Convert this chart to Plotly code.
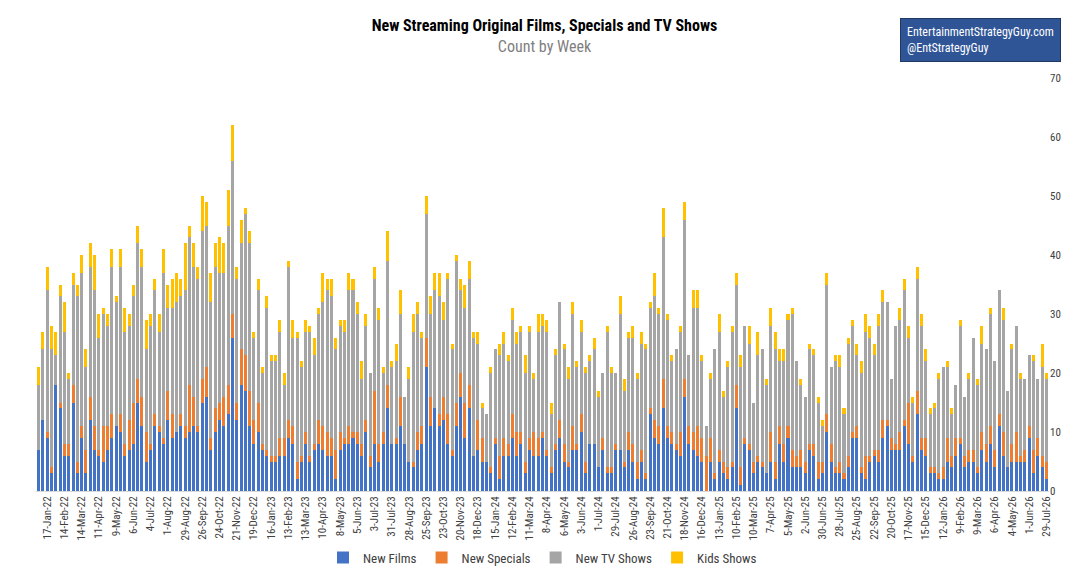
import plotly.graph_objects as go

films = [7,12,9,3,18,14,6,6,15,3,9,3,12,7,6,5,7,9,11,10,
 6,7,8,15,11,5,7,11,10,8,12,9,10,11,9,10,11,10,15,16,
 7,10,12,11,13,26,12,18,17,11,8,10,7,6,5,5,6,6,9,8,
 2,5,8,5,7,8,7,6,6,2,7,8,8,9,8,6,10,4,8,5,
 8,14,8,8,11,8,5,4,7,8,21,11,14,11,12,8,6,11,16,9,
 14,6,7,5,5,3,8,2,6,6,9,6,8,3,7,6,6,9,6,3,
 7,9,5,4,7,7,10,3,8,8,4,7,3,3,7,7,4,7,5,2,
 5,2,13,9,8,14,9,8,7,6,16,8,7,6,5,0,5,2,5,3,
 2,4,14,1,8,7,3,5,4,3,5,2,8,5,9,4,4,4,3,7,
 6,2,3,10,5,3,3,2,4,9,9,3,2,5,6,5,9,11,7,7,
 7,11,8,5,13,7,6,3,3,2,2,5,4,6,8,4,5,5,3,7,
 5,8,4,11,6,4,5,5,5,5,9,3,6,4,2]
specials = [0,0,1,1,0,1,2,2,3,2,2,4,4,4,1,6,4,4,0,3,
 2,5,7,4,5,5,1,2,1,1,5,4,0,2,2,8,5,1,4,5,
 2,4,3,5,5,4,3,6,6,6,4,5,1,1,1,1,3,3,3,3,
 3,1,2,1,1,4,4,4,3,5,3,1,3,1,2,2,2,2,9,3,
 2,4,0,1,5,0,0,1,3,3,5,5,0,2,4,5,1,4,4,6,
 4,0,5,4,0,1,1,4,3,2,4,4,2,2,2,4,3,1,1,1,
 1,3,3,1,4,1,3,2,0,0,0,2,1,1,1,0,1,3,3,3,
 2,1,1,3,3,5,2,2,1,4,3,3,3,5,4,6,4,1,2,2,
 2,1,4,3,1,1,2,1,1,0,5,3,3,3,2,3,2,3,2,1,
 2,3,2,3,3,1,2,1,2,1,2,1,4,1,1,2,3,1,2,1,
 3,1,7,1,4,2,3,1,1,1,2,4,2,3,1,2,2,2,1,3,
 3,3,3,2,4,0,3,5,1,2,2,4,3,2,3]
tv = [11,12,24,20,5,18,19,11,17,28,26,14,22,23,19,19,17,25,21,25,
 19,16,18,23,22,14,20,21,16,28,14,18,22,20,23,25,22,25,25,24,
 23,24,22,21,27,26,21,18,24,25,14,19,12,24,16,16,18,9,26,15,
 21,15,17,21,15,18,21,24,24,17,18,18,23,24,20,11,16,14,19,21,
 10,21,13,13,14,8,14,22,20,15,21,14,20,20,13,23,17,24,14,16,
 18,20,13,5,8,16,15,17,16,14,16,15,17,15,18,9,18,18,20,9,
 15,20,16,14,19,13,14,15,14,16,12,11,23,16,12,23,12,16,18,14,
 18,21,17,21,19,24,18,12,16,17,27,12,21,20,13,5,10,21,20,11,
 17,22,17,17,19,17,10,17,19,15,18,19,11,14,18,23,16,11,11,16,
 15,10,6,22,13,18,16,10,19,18,12,16,21,20,16,21,20,20,10,20,
 19,22,11,9,19,19,13,9,10,16,17,12,7,9,19,10,12,19,14,15,
 16,19,15,21,19,13,16,18,13,12,12,15,10,15,14]
kids = [3,3,4,4,4,2,5,1,2,2,3,3,4,6,4,1,2,3,1,3,
 4,2,2,3,3,5,2,2,3,4,4,5,5,3,8,2,4,2,6,4,
 5,4,6,5,6,6,2,4,1,2,1,2,1,2,1,1,2,2,1,3,
 1,1,2,1,3,1,5,2,3,2,1,2,3,2,2,3,2,0,2,2,
 1,5,1,3,4,0,2,3,2,1,3,3,3,4,3,1,1,1,2,4,
 3,1,2,1,0,1,0,2,2,1,2,2,1,3,1,1,3,2,2,2,
 1,0,1,2,2,1,2,1,1,2,1,0,1,1,0,3,2,1,2,1,
 2,1,1,4,1,5,1,1,0,1,3,0,3,3,1,0,1,0,3,1,
 1,1,2,2,0,3,0,4,0,1,3,3,2,2,1,1,0,1,0,1,
 1,1,1,2,0,1,2,1,1,1,2,2,3,2,2,2,2,0,0,0,
 2,2,2,1,2,2,2,1,1,1,0,1,1,0,1,0,1,0,1,3,
 0,1,0,0,2,0,1,0,1,0,0,1,0,4,1]

tick_labels = ["17-Jan-22","14-Feb-22","14-Mar-22","11-Apr-22","9-May-22","6-Jun-22","4-Jul-22","1-Aug-22","29-Aug-22","26-Sep-22","24-Oct-22","21-Nov-22","19-Dec-22",
 "16-Jan-23","13-Feb-23","13-Mar-23","10-Apr-23","8-May-23","5-Jun-23","3-Jul-23","31-Jul-23","28-Aug-23","25-Sep-23","23-Oct-23","20-Nov-23","18-Dec-23",
 "15-Jan-24","12-Feb-24","11-Mar-24","8-Apr-24","6-May-24","3-Jun-24","1-Jul-24","29-Jul-24","26-Aug-24","23-Sep-24","21-Oct-24","18-Nov-24","16-Dec-24",
 "13-Jan-25","10-Feb-25","10-Mar-25","7-Apr-25","5-May-25","2-Jun-25","30-Jun-25","28-Jul-25","25-Aug-25","22-Sep-25","20-Oct-25","17-Nov-25","15-Dec-25",
 "12-Jan-26","9-Feb-26","9-Mar-26","6-Apr-26","4-May-26","1-Jun-26","29-Jul-26"]

n = len(films)
x = list(range(n))
tickvals = [2 + 4 * i for i in range(len(tick_labels))]

FONT = "Liberation Sans Narrow, Arial Narrow, Roboto Condensed, Liberation Sans, sans-serif"
fig = go.Figure()
for name, vals, col in [("New Films", films, "#4472C4"), ("New Specials", specials, "#ED7D31"),
                        ("New TV Shows", tv, "#A5A5A5"), ("Kids Shows", kids, "#FFC000")]:
    fig.add_bar(x=x, y=vals, name=name, marker_color=col, marker_line_width=0)

fig.update_layout(
    barmode="stack", bargap=0.3, width=1073, height=587,
    paper_bgcolor="white", plot_bgcolor="white",
    font=dict(family=FONT, size=12, color="#333"),
    margin=dict(l=28, r=32, t=70, b=104),
    title=dict(text="<b>New Streaming Original Films, Specials and TV Shows</b><br><span style='color:#7f7f7f;font-size:16px'>Count by Week</span>",
               x=0.5, xanchor="center", y=0.96, yanchor="top", font=dict(size=16, color="#000")),
    legend=dict(orientation="h", x=0.5, xanchor="center", y=-0.125, yanchor="top", font=dict(size=13, color="#404040"), traceorder="normal"),
    xaxis=dict(tickvals=tickvals, ticktext=tick_labels, tickangle=-90, range=[-0.6, n - 0.4],
               showline=True, linecolor="#d9d9d9", tickfont=dict(size=11, color="#404040"), ticks=""),
    yaxis=dict(side="right", range=[0, 70], dtick=10, showgrid=False, tickfont=dict(size=11, color="#404040"), zeroline=False),
)
fig.add_annotation(xref="paper", yref="paper", x=1.012, y=1.145, xanchor="right", yanchor="top",
                   text="EntertainmentStrategyGuy.com<br>@EntStrategyGuy", align="left", showarrow=False,
                   bgcolor="#2F5597", bordercolor="#1F3864", borderwidth=1, borderpad=6,
                   font=dict(color="white", size=12, family=FONT))
fig.write_html("out.html")
